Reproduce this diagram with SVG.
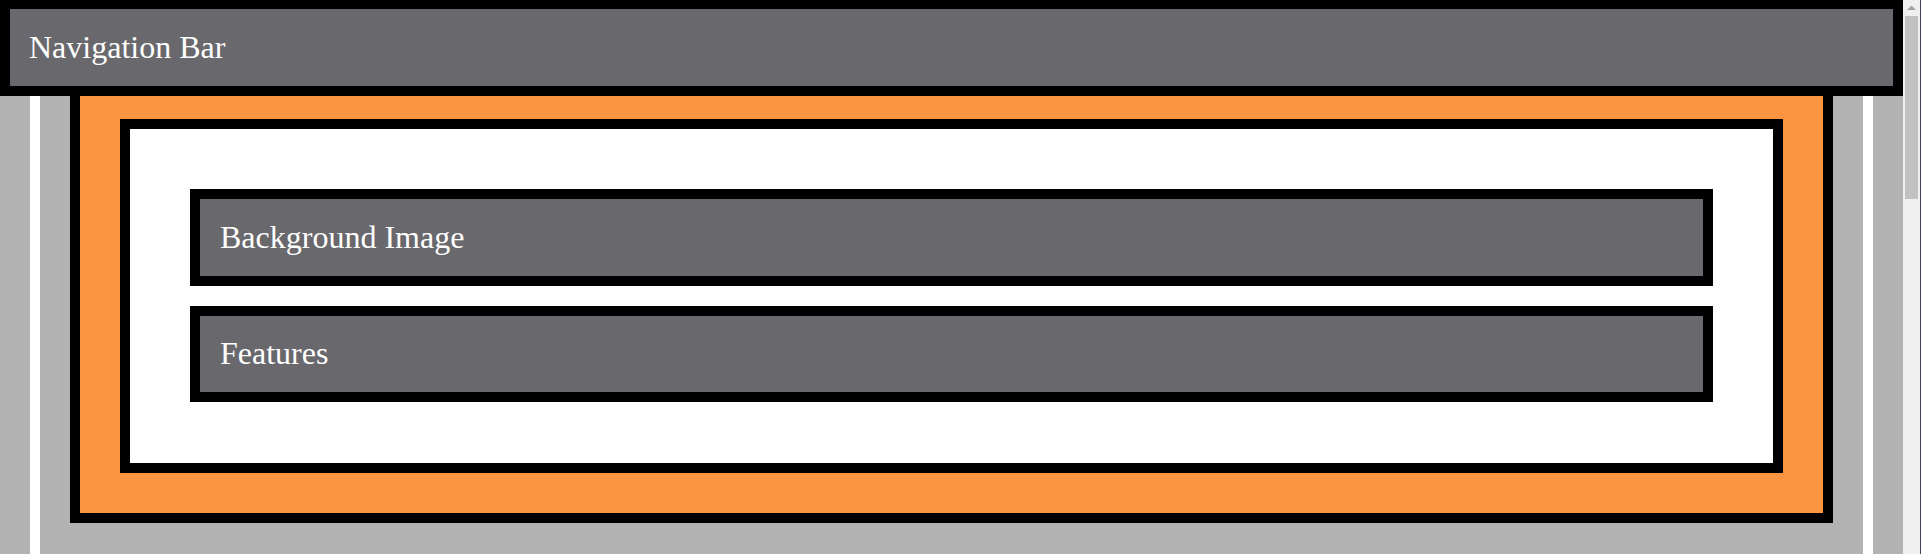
<svg xmlns="http://www.w3.org/2000/svg" width="1921" height="554" viewBox="0 0 1921 554">
<style>
.box{fill:#69686d;stroke:#000;stroke-width:10}
.lbl{font-family:'Liberation Serif','DejaVu Serif',serif;font-size:32px;fill:#fff}
</style>
<rect x="0" y="0" width="1921" height="554" fill="#fff"/>
<g id="page-bg">
<rect x="0" y="0" width="30" height="554" fill="#b3b3b3"/>
<rect x="40" y="0" width="1823" height="554" fill="#b3b3b3"/>
<rect x="1873" y="0" width="30" height="554" fill="#b3b3b3"/>
</g>
<g id="container">
<rect x="75" y="74" width="1753" height="444" fill="#fc9542" stroke="#000" stroke-width="10"/>
</g>
<g id="content">
<rect x="125" y="124" width="1653" height="344" fill="#fff" stroke="#000" stroke-width="10"/>
</g>
<g id="background-image">
<rect class="box" x="195" y="194" width="1513" height="87"/>
<text class="lbl" x="220" y="248">Background Image</text>
</g>
<g id="features">
<rect class="box" x="195" y="311" width="1513" height="86"/>
<text class="lbl" x="220" y="364">Features</text>
</g>
<g id="navigation-bar">
<rect class="box" x="5" y="4" width="1893" height="87"/>
<text class="lbl" x="29" y="58">Navigation Bar</text>
</g>
<g id="connectors"></g>
<g id="scrollbar">
<rect x="1903" y="0" width="18" height="554" fill="#f0f0f0"/>
<rect x="1905" y="16" width="13" height="183" fill="#c1c1c1"/>
<polygon points="1907,10 1911.5,5.5 1916,10" fill="#a3a3a3"/>
<rect x="1920" y="0" width="1" height="554" fill="#3c4350"/>
</g>
</svg>
